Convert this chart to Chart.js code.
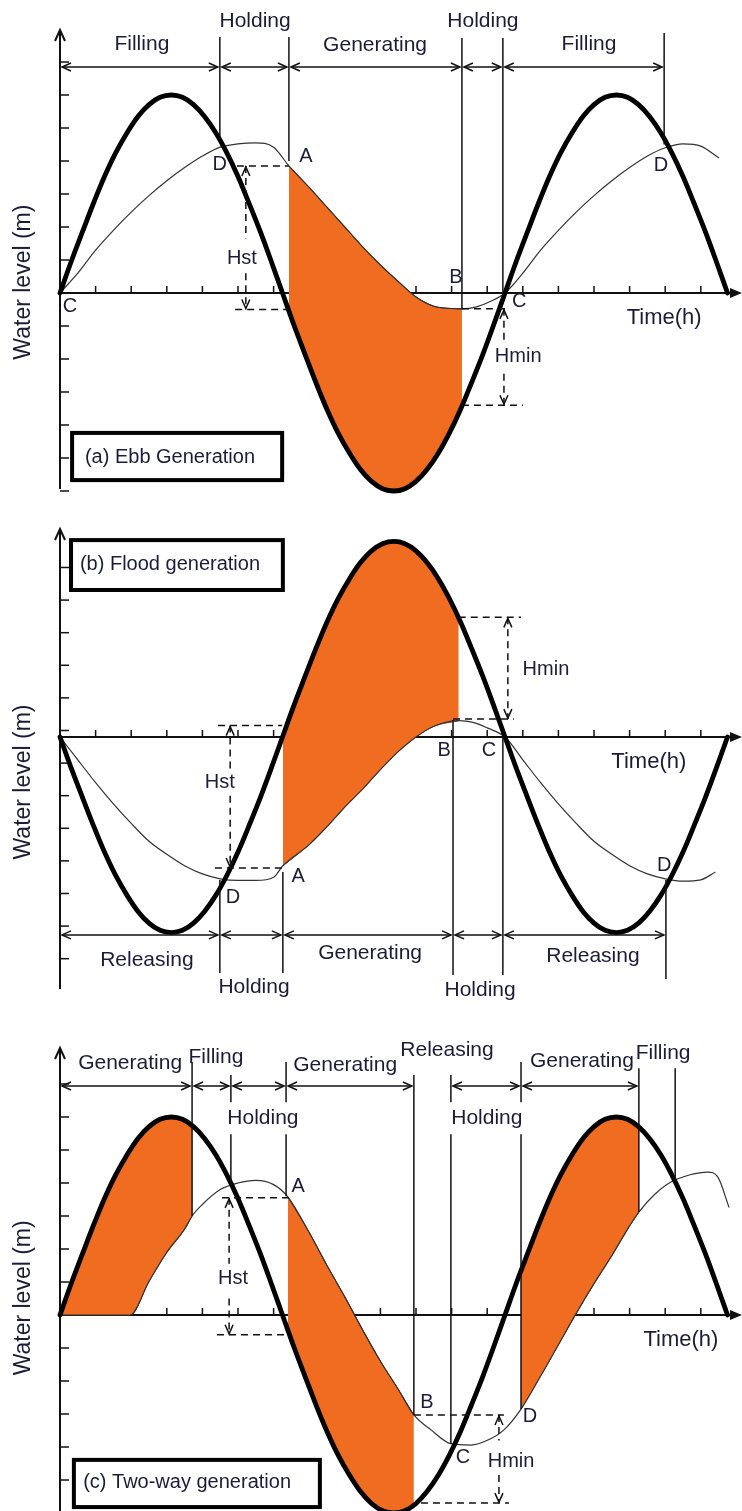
<!DOCTYPE html>
<html>
<head>
<meta charset="utf-8">
<script src="https://cdn.jsdelivr.net/npm/chart.js@4.4.0/dist/chart.umd.min.js"></script>
<style>
  html, body { margin: 0; padding: 0; background: #fff; }
  #wrap { position: relative; width: 742px; height: 1511px; overflow: hidden; }
  canvas { position: absolute; left: 0; }
</style>
</head>
<body>
<div id="wrap">
  <canvas id="ebb" width="742" height="500" style="top:0px"></canvas>
  <canvas id="flood" width="742" height="510" style="top:500px"></canvas>
  <canvas id="twoway" width="742" height="501" style="top:1010px"></canvas>
</div>
<script>
// values: time in hours (one x tick = 1 h), level in y-tick units
const hourTicks = [1, 2, 3, 4, 5, 6, 7, 8, 9, 10, 11, 12, 13, 14, 15, 16, 17, 18];
const levelTicksEbb = [7, 6, 5, 4, 3, 2, 1, -1, -2, -3, -4, -5, -6];
const levelTicksFlood = [5.2, 4.2, 3.2, 2.2, 1.2, 0.2, -0.8, -1.8, -2.8, -3.8, -4.8, -5.8, -6.8];
const levelTicksTwoWay = [7, 6, 5, 4, 3, 2, 1, -1, -2, -3, -4, -5];

// sea level (thick line)
const seaTime = [0, 0.31, 0.63, 0.94, 1.25, 1.56, 1.88, 2.19, 2.5, 2.81, 3.13, 3.44, 3.75, 4.06, 4.38, 4.69,
  5, 5.31, 5.63, 5.94, 6.25, 6.56, 6.88, 7.19, 7.5, 7.81, 8.13, 8.44, 8.75, 9.06, 9.38, 9.69, 10, 10.31,
  10.63, 10.94, 11.25, 11.56, 11.88, 12.19, 12.5, 12.81, 13.13, 13.44, 13.75, 14.06, 14.38, 14.69, 15,
  15.31, 15.63, 15.94, 16.25, 16.56, 16.88, 17.19, 17.5, 17.81, 18.13, 18.44, 18.75];
const seaEbb = [0, 0.94, 1.85, 2.72, 3.53, 4.24, 4.85, 5.35, 5.71, 5.93, 6,
  5.93, 5.71, 5.35, 4.85, 4.24, 3.53, 2.72, 1.85, 0.94, 0,
  -0.94, -1.85, -2.72, -3.53, -4.24, -4.85, -5.35, -5.71, -5.93, -6,
  -5.93, -5.71, -5.35, -4.85, -4.24, -3.53, -2.72, -1.85, -0.94, 0,
  0.94, 1.85, 2.72, 3.53, 4.24, 4.85, 5.35, 5.71, 5.93, 6,
  5.93, 5.71, 5.35, 4.85, 4.24, 3.53, 2.72, 1.85, 0.94, 0];
const seaFlood = [0, -0.94, -1.85, -2.72, -3.53, -4.24, -4.85, -5.35, -5.71, -5.93, -6,
  -5.93, -5.71, -5.35, -4.85, -4.24, -3.53, -2.72, -1.85, -0.94, 0,
  0.94, 1.85, 2.72, 3.53, 4.24, 4.85, 5.35, 5.71, 5.93, 6,
  5.93, 5.71, 5.35, 4.85, 4.24, 3.53, 2.72, 1.85, 0.94, 0,
  -0.94, -1.85, -2.72, -3.53, -4.24, -4.85, -5.35, -5.71, -5.93, -6,
  -5.93, -5.71, -5.35, -4.85, -4.24, -3.53, -2.72, -1.85, -0.94, 0];

// basin level (thin line)
const basinTimeA = [0, 0.5, 1, 1.5, 2, 2.5, 3, 3.5, 4, 4.5, 5, 5.5, 6, 6.43, 7, 7.5, 8, 8.5, 9, 9.5, 10, 10.5,
  11, 11.29, 11.7, 12.1, 12.5, 13, 13.5, 14, 14.5, 15, 15.5, 16, 16.5, 17, 17.5, 18, 18.5];
const basinA = [0, 0.6, 1.3, 1.9, 2.45, 2.95, 3.4, 3.8, 4.15, 4.42, 4.52, 4.55, 4.42, 3.85, 3.2, 2.6, 2.0, 1.4,
  0.85, 0.35, -0.12, -0.4, -0.47, -0.48, -0.42, -0.25, 0, 0.6, 1.3, 1.9, 2.45, 2.95, 3.4, 3.8, 4.15, 4.4, 4.52, 4.45, 4.1];
const basinTimeB = [0, 0.5, 1, 1.5, 2, 2.5, 3, 3.5, 4, 4.5, 5, 5.5, 6, 6.26, 7, 7.5, 8, 8.5, 9, 9.5, 10, 10.5,
  11.2, 11.6, 12, 12.5, 13, 13.5, 14, 14.5, 15, 15.5, 16, 16.5, 17, 17.5, 18, 18.4];
const basinB = [0, -0.7, -1.4, -2.05, -2.65, -3.2, -3.6, -3.95, -4.2, -4.35, -4.4, -4.4, -4.3, -3.95, -3.3, -2.75,
  -2.15, -1.6, -1.0, -0.45, 0, 0.33, 0.5, 0.45, 0.28, 0, -0.7, -1.4, -2.05, -2.65, -3.2, -3.6, -3.95, -4.2,
  -4.35, -4.42, -4.38, -4.15];
const basinTimeC = [0, 1.97, 2.5, 3, 3.5, 3.71, 4, 4.5, 5, 5.5, 6, 6.4, 7, 7.5, 8, 8.5, 9, 9.5, 9.94, 10.42,
  10.98, 11.54, 12.02, 12.47, 12.95, 13.5, 14, 14.5, 15, 15.5, 16, 16.26, 16.7, 17.16, 17.7, 18.2, 18.48, 18.79];
const basinC = [0, 0, 1.02, 1.9, 2.6, 3.0, 3.35, 3.8, 4.0, 4.08, 3.95, 3.58, 2.5, 1.5, 0.55, -0.45, -1.4, -2.25,
  -3.03, -3.48, -3.9, -3.94, -3.79, -3.48, -2.85, -1.85, -0.9, 0.05, 0.95, 1.8, 2.7, 3.12, 3.65, 4.03, 4.25,
  4.33, 4.18, 3.27];

// generating windows (orange): same times for the sea edge and the basin edge
const genTimeA = [6.43, 7, 7.5, 8, 8.5, 9, 9.5, 10, 10.5, 11, 11.29];
const genBasinA = [3.85, 3.2, 2.6, 2.0, 1.4, 0.85, 0.35, -0.12, -0.4, -0.47, -0.48];
const genSeaA = [-0.54, -2.21, -3.53, -4.62, -5.43, -5.89, -5.99, -5.71, -5.07, -4.11, -3.43];

const genTimeB = [6.26, 7, 7.5, 8, 8.5, 9, 9.5, 10, 10.5, 11.2];
const genSeaB = [0.03, 2.21, 3.53, 4.62, 5.43, 5.89, 5.99, 5.71, 5.07, 3.67];
const genBasinB = [-3.95, -3.3, -2.75, -2.15, -1.6, -1.0, -0.45, 0, 0.33, 0.5];

const genTimeC1 = [0, 0.63, 1.25, 1.97, 2.5, 3, 3.5, 3.71];
const genSeaC1 = [0, 1.85, 3.53, 5.0, 5.71, 5.99, 5.89, 5.74];
const genBasinC1 = [0, 0, 0, 0, 1.02, 1.9, 2.6, 3.0];
const genTimeC2 = [6.4, 7, 7.5, 8, 8.5, 9, 9.5, 9.94];
const genBasinC2 = [3.58, 2.5, 1.5, 0.55, -0.45, -1.4, -2.25, -3.03];
const genSeaC2 = [-0.45, -2.21, -3.53, -4.62, -5.43, -5.89, -5.99, -5.76];
const genTimeC3 = [12.95, 13.5, 14, 14.5, 15, 15.5, 16, 16.26];
const genSeaC3 = [1.35, 2.89, 4.11, 5.07, 5.71, 5.99, 5.89, 5.70];
const genBasinC3 = [-2.85, -1.85, -0.9, 0.05, 0.95, 1.8, 2.7, 3.12];

// operation phases: [time, from level, to level] for the vertical lines, [start, end] for the arrows
const phaseLinesA = [[4.49, 4.64, 7.76], [6.43, 4.0, 7.76], [11.29, -0.48, 7.73], [12.44, 0, 7.73], [16.97, 4.5, 7.88]];
const phaseSpansA = [[0, 4.49], [4.49, 6.43], [6.43, 11.29], [11.29, 12.44], [12.44, 16.97]];
const phaseLinesB = [[4.49, -4.39, -7.24], [6.26, -4.14, -7.24], [11.04, 0.52, -7.3], [12.44, 0, -7.3], [17.02, -4.39, -7.42]];
const phaseSpansB = [[0, 4.49], [4.49, 6.26], [6.26, 11.04], [11.04, 12.44], [12.44, 17.02]];
const phaseLinesC = [[3.71, 3.0, 7.67], [4.8, 6.45, 7.27], [4.8, 3.94, 5.48], [6.35, 6.45, 7.67], [6.35, 3.6, 5.48],
  [9.94, -3.03, 7.27], [10.98, 6.45, 7.27], [10.98, -3.9, 5.48], [12.95, 6.45, 7.67], [12.95, -2.85, 5.48],
  [16.26, 3.12, 7.48], [17.28, 4.0, 7.48]];
const phaseSpansC = [[0, 3.71], [3.71, 4.8], [4.8, 6.35], [6.35, 9.94], [10.98, 12.95], [12.95, 16.26]];

const labelsA = [['Filling', 2.30, 7.55, 21], ['Holding', 5.48, 8.24, 21], ['Generating', 8.85, 7.52, 21],
  ['Holding', 11.88, 8.24, 21], ['Filling', 14.86, 7.55, 21], ['C', 0.28, -0.42, 20], ['D', 4.49, 3.88, 20],
  ['A', 6.91, 4.15, 20], ['B', 11.12, 0.48, 20], ['C', 12.9, -0.27, 20], ['D', 16.88, 3.85, 20],
  ['Time(h)', 16.97, -0.76, 22], ['Hst', 5.11, 1.06, 20], ['Hmin', 12.87, -1.91, 20]];
const labelsB = [['Releasing', 2.44, -6.84, 21], ['Holding', 5.45, -7.67, 21], ['Generating', 8.71, -6.63, 21],
  ['Holding', 11.8, -7.76, 21], ['Releasing', 14.97, -6.72, 21], ['D', 4.86, -4.91, 20], ['A', 6.69, -4.29, 20],
  ['B', 10.79, -0.4, 20], ['C', 12.05, -0.4, 20], ['D', 16.97, -3.93, 20], ['Time(h)', 16.54, -0.77, 22],
  ['Hst', 4.49, -1.41, 20], ['Hmin', 13.65, 2.06, 20]];
const labelsC = [['Generating', 1.97, 7.64, 21], ['Filling', 4.38, 7.82, 21], ['Holding', 5.70, 5.97, 21],
  ['Generating', 8.01, 7.58, 21], ['Releasing', 10.87, 8.03, 21], ['Holding', 11.99, 5.97, 21],
  ['Generating', 14.66, 7.70, 21], ['Filling', 16.94, 7.94, 21], ['A', 6.69, 3.88, 20], ['Hst', 4.86, 1.12, 20],
  ['B', 10.31, -2.64, 20], ['C', 11.32, -4.33, 20], ['D', 13.2, -3.06, 20], ['Hmin', 12.67, -4.45, 20],
  ['Time(h)', 17.44, -0.76, 22]];

const ORANGE = '#ef6c21';
const INK = '#1c1c38';
const FONT = '"Liberation Sans", Arial, sans-serif';

function pts(ts, vs) {
  return ts.map((t, i) => ({ x: t, y: vs[i] }));
}

function curve(ts, vs, width, color) {
  return {
    data: pts(ts, vs), borderColor: color, borderWidth: width, pointRadius: 0,
    cubicInterpolationMode: 'monotone', fill: false, clip: false,
    borderCapStyle: 'round', borderJoinStyle: 'round'
  };
}

function band(ts, a, b) {
  return [
    { data: pts(ts, a), borderColor: '#2b2b2b', borderWidth: 1, pointRadius: 0,
      cubicInterpolationMode: 'monotone', fill: '+1', backgroundColor: ORANGE },
    { data: pts(ts, b), borderColor: '#2b2b2b', borderWidth: 1, pointRadius: 0,
      cubicInterpolationMode: 'monotone', fill: false }
  ];
}

function seg(ctx, x1, y1, x2, y2) {
  ctx.beginPath();
  ctx.moveTo(x1, y1);
  ctx.lineTo(x2, y2);
  ctx.stroke();
}

function head(ctx, x, y, ang, len, wid) {
  const c = Math.cos(ang), s = Math.sin(ang);
  ctx.beginPath();
  ctx.moveTo(x - len * c + wid * s, y - len * s - wid * c);
  ctx.lineTo(x, y);
  ctx.lineTo(x - len * c - wid * s, y - len * s + wid * c);
  ctx.stroke();
}

// draws the axes, phase markers, dimension arrows and labels through the chart's scales
function sketch(cfg) {
  return {
    id: 'sketch',
    beforeDatasetsDraw(chart) {
      const ctx = chart.ctx;
      const X = v => chart.scales.x.getPixelForValue(v);
      const Y = v => chart.scales.y.getPixelForValue(v);
      const x0 = X(0), y0 = Y(0), right = chart.width;
      ctx.save();
      ctx.strokeStyle = '#111';
      ctx.fillStyle = '#111';
      ctx.lineWidth = 2;
      seg(ctx, x0, Y(cfg.axis[0]), x0, Y(cfg.axis[1]));
      head(ctx, x0, Y(cfg.axis[1]), -Math.PI / 2, 11, 5);
      ctx.lineWidth = 1.5;
      cfg.yTicks.forEach(v => seg(ctx, x0, Y(v), x0 + 9, Y(v)));
      ctx.lineWidth = 2;
      seg(ctx, x0, y0, right - 6, y0);
      ctx.beginPath();
      ctx.moveTo(right, y0);
      ctx.lineTo(right - 12, y0 - 5);
      ctx.lineTo(right - 12, y0 + 5);
      ctx.closePath();
      ctx.fill();
      ctx.lineWidth = 1.5;
      hourTicks.forEach(t => seg(ctx, X(t), y0, X(t), y0 - 7));
      ctx.restore();
    },
    afterDatasetsDraw(chart) {
      const ctx = chart.ctx;
      const X = v => chart.scales.x.getPixelForValue(v);
      const Y = v => chart.scales.y.getPixelForValue(v);
      ctx.save();
      ctx.strokeStyle = '#111';
      ctx.lineWidth = 1.5;
      cfg.lines.forEach(([t, a, b]) => seg(ctx, X(t), Y(a), X(t), Y(b)));
      cfg.spans.forEach(([a, b]) => {
        const y = Y(cfg.spanLevel), xa = X(a) + 2, xb = X(b) - 2;
        seg(ctx, xa, y, xb, y);
        head(ctx, xa, y, Math.PI, 9, 4);
        head(ctx, xb, y, 0, 9, 4);
      });
      cfg.dims.forEach(d => {
        ctx.setLineDash([7, 5]);
        d.h.forEach(([a, b, v]) => seg(ctx, X(a), Y(v), X(b), Y(v)));
        const x = X(d.x);
        const hi = Math.max(d.from, d.to), lo = Math.min(d.from, d.to);
        if (d.gap) {
          seg(ctx, x, Y(hi), x, Y(Math.max(...d.gap)));
          seg(ctx, x, Y(Math.min(...d.gap)), x, Y(lo));
        } else {
          seg(ctx, x, Y(hi), x, Y(lo));
        }
        ctx.setLineDash([]);
        head(ctx, x, Y(hi) + 1, -Math.PI / 2, 9, 4);
        head(ctx, x, Y(lo) - 1, Math.PI / 2, 9, 4);
      });
      ctx.fillStyle = INK;
      ctx.textAlign = 'center';
      ctx.textBaseline = 'middle';
      cfg.labels.forEach(([s, t, v, size]) => {
        ctx.font = size + 'px ' + FONT;
        ctx.fillText(s, X(t), Y(v));
      });
      // panel caption box
      const [t1, v1, t2, v2] = cfg.box;
      ctx.fillStyle = '#fff';
      ctx.fillRect(X(t1), Y(v1), X(t2) - X(t1), Y(v2) - Y(v1));
      ctx.lineWidth = 4;
      ctx.strokeStyle = '#000';
      ctx.strokeRect(X(t1), Y(v1), X(t2) - X(t1), Y(v2) - Y(v1));
      ctx.fillStyle = INK;
      ctx.textAlign = 'left';
      ctx.font = '20px ' + FONT;
      ctx.fillText(cfg.caption[0], X(cfg.caption[1]), Y(cfg.caption[2]));
      // y title
      ctx.save();
      ctx.translate(X(cfg.yTitle[0]), Y(cfg.yTitle[1]));
      ctx.rotate(-Math.PI / 2);
      ctx.textAlign = 'center';
      ctx.font = '23px ' + FONT;
      ctx.fillText('Water level (m)', 0, 0);
      ctx.restore();
      ctx.restore();
    }
  };
}

function makeChart(id, yMin, yMax, datasets, cfg) {
  return new Chart(document.getElementById(id), {
    type: 'line',
    data: { datasets: datasets },
    options: {
      responsive: false,
      animation: false,
      devicePixelRatio: 1,
      events: [],
      layout: { padding: { left: 60, right: 0, top: 0, bottom: 0 } },
      plugins: { legend: { display: false }, tooltip: { enabled: false } },
      scales: {
        x: { type: 'linear', min: 0, max: 19.157, display: false },
        y: { type: 'linear', min: yMin, max: yMax, display: false }
      }
    },
    plugins: [sketch(cfg)]
  });
}

makeChart('ebb', -6.273, 8.879, [
  curve(seaTime, seaEbb, 4.8, '#000'),
  curve(basinTimeA, basinA, 1.2, '#333'),
  ...band(genTimeA, genBasinA, genSeaA)
], {
  axis: [-5.94, 7.97], yTicks: levelTicksEbb,
  lines: phaseLinesA, spans: phaseSpansA, spanLevel: 6.85,
  dims: [
    { x: 5.22, from: 3.85, to: -0.5, gap: [0.6, 1.65], h: [[4.97, 6.43, 3.85], [4.92, 6.38, -0.5]] },
    { x: 12.47, from: -0.48, to: -3.4, gap: [-1.45, -2.45], h: [[11.29, 12.61, -0.48], [11.29, 13.0, -3.4]] }
  ],
  labels: labelsA,
  box: [0.34, -4.24, 6.24, -5.67], caption: ['(a) Ebb Generation', 0.7, -4.97],
  yTitle: [-1.01, 0.33]
});

makeChart('flood', -8.374, 7.27, [
  curve(seaTime, seaFlood, 4.8, '#000'),
  curve(basinTimeB, basinB, 1.2, '#333'),
  ...band(genTimeB, genSeaB, genBasinB)
], {
  axis: [-7.73, 6.38], yTicks: levelTicksFlood,
  lines: phaseLinesB, spans: phaseSpansB, spanLevel: -6.07,
  dims: [
    { x: 4.78, from: 0.35, to: -4.02, gap: [-1.05, -1.8], h: [[4.44, 6.24, 0.35], [4.35, 6.26, -4.02]] },
    { x: 12.58, from: 3.67, to: 0.55, gap: null, h: [[11.2, 12.95, 3.67], [11.04, 12.75, 0.55]] }
  ],
  labels: labelsB,
  box: [0.31, 6.04, 6.26, 4.51], caption: ['(b) Flood generation', 0.56, 5.28],
  yTitle: [-1.01, -1.38]
});

makeChart('twoway', -5.939, 9.242, [
  curve(seaTime, seaEbb, 4.8, '#000'),
  curve(basinTimeC, basinC, 1.2, '#333'),
  ...band(genTimeC1, genSeaC1, genBasinC1),
  ...band(genTimeC2, genBasinC2, genSeaC2),
  ...band(genTimeC3, genSeaC3, genBasinC3)
], {
  axis: [-5.94, 8.09], yTicks: levelTicksTwoWay,
  lines: phaseLinesC, spans: phaseSpansC, spanLevel: 6.94,
  dims: [
    { x: 4.75, from: 3.55, to: -0.6, gap: [0.5, 1.55], h: [[4.55, 6.43, 3.55], [4.41, 6.38, -0.6]] },
    { x: 12.33, from: -3.03, to: -5.7, gap: [-3.8, -4.85], h: [[9.94, 12.47, -3.03], [10.14, 12.61, -5.7]] }
  ],
  labels: labelsC,
  box: [0.39, -4.39, 7.3, -5.82], caption: ['(c) Two-way generation', 0.65, -5.09],
  yTitle: [-1.01, 0.52]
});
</script>
</body>
</html>
